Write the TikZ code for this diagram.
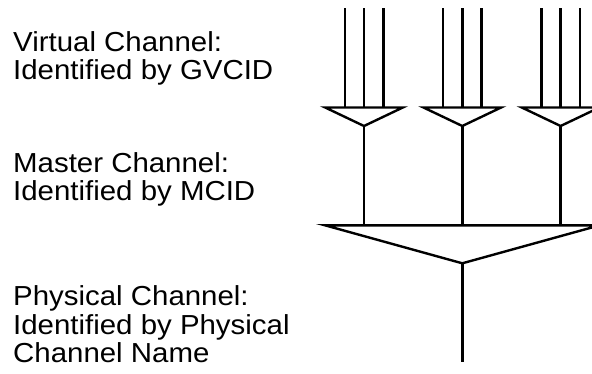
\documentclass[tikz,border=0pt]{standalone}
\usepackage{fontspec}
\newfontfamily\labfont[FakeStretch=1.07]{Liberation Sans}
\begin{document}
\begin{tikzpicture}[x=1pt,y=-1pt,
  wire/.style={line width=2.4pt, line cap=butt},
  funnel/.style={line width=2.4pt, line join=miter},
  lab/.style={anchor=base west, inner sep=0pt, align=left,
    font=\labfont\fontsize{27.5}{28.5}\selectfont}]
\useasboundingbox (0,0) rectangle (592,373);
\clip (0,0) rectangle (592,373);

% labels (base anchor = baseline of last line)
\node[lab] (vc) at (13,79.5) {Virtual Channel:\\Identified by GVCID};
\node[lab] (mc) at (13,200.5) {Master Channel:\\Identified by MCID};
\node[lab] (pc) at (13,362.5) {Physical Channel:\\Identified by Physical\\Channel Name};

% virtual channel funnels
\foreach \i in {0,1,2}{
  \pgfmathsetmacro{\cx}{364+98.3*\i}
  \coordinate (a\i) at (\cx,126);
  \coordinate (tl\i) at (\cx-38.8,107.5);
  \coordinate (tr\i) at (\cx+38.8,107.5);
  \draw[funnel] (tl\i) -- (tr\i) -- (a\i) -- cycle;
  \foreach \j in {0,1,2}{
    \pgfmathsetmacro{\lx}{\cx+19.3*(\j-1)}
    \coordinate (in\i\j) at (\lx,8);
    \coordinate (ft\i\j) at (\lx,107.5);
    \draw[wire] (in\i\j) -- (ft\i\j);
  }
  \coordinate (m\i) at (\cx,225.3);
  \draw[wire] (a\i) -- (m\i);
}

% master channel funnel
\coordinate (BL) at (325,225.3);
\coordinate (BR) at (599.7,225.3);
\coordinate (A) at (462.3,263.3);
\coordinate (out) at (462.3,361.7);
\draw[funnel] (BL) -- (BR) -- (A) -- cycle;
\draw[wire] (A) -- (out);
\end{tikzpicture}
\end{document}
